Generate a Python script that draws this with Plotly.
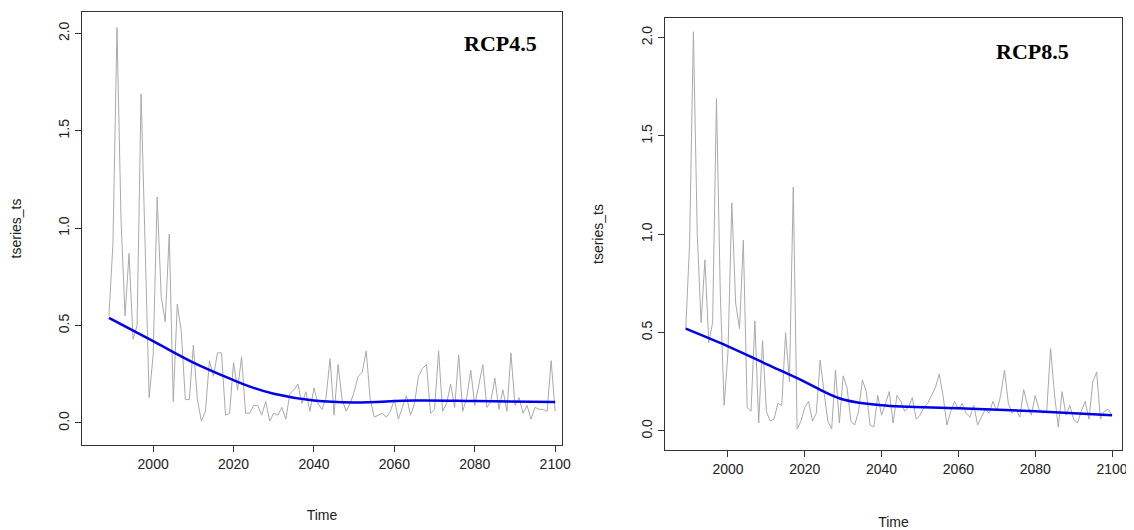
import plotly.graph_objects as go

years = list(range(1989, 2101))

rcp45 = [0.55,0.92,2.03,1.05,0.55,0.87,0.43,0.50,1.69,0.85,0.13,0.35,1.16,0.65,0.52,0.97,0.11,0.61,0.47,0.12,
         0.12,0.40,0.12,0.01,0.06,0.32,0.24,0.36,0.36,0.04,0.05,0.31,0.17,0.34,0.05,0.05,0.09,0.09,0.04,0.11,
         0.01,0.05,0.04,0.08,0.02,0.15,0.17,0.20,0.10,0.16,0.06,0.18,0.10,0.07,0.13,0.33,0.04,0.30,0.12,0.06,
         0.10,0.16,0.24,0.26,0.37,0.12,0.03,0.04,0.05,0.03,0.06,0.12,0.02,0.08,0.14,0.04,0.10,0.24,0.28,0.30,
         0.05,0.07,0.37,0.06,0.10,0.20,0.08,0.35,0.06,0.13,0.27,0.09,0.19,0.30,0.08,0.11,0.23,0.07,0.17,0.06,
         0.36,0.09,0.13,0.05,0.09,0.02,0.08,0.07,0.07,0.06,0.32,0.06,0.05][:112]
rcp85 = [0.52,0.95,2.03,1.00,0.55,0.87,0.45,0.55,1.69,0.70,0.13,0.40,1.16,0.65,0.52,0.97,0.12,0.10,0.56,0.04,
         0.46,0.10,0.05,0.06,0.14,0.13,0.50,0.25,1.24,0.01,0.05,0.12,0.15,0.05,0.09,0.36,0.20,0.05,0.01,0.31,
         0.04,0.28,0.22,0.05,0.03,0.10,0.26,0.20,0.03,0.02,0.18,0.08,0.14,0.20,0.04,0.18,0.15,0.10,0.12,0.17,
         0.06,0.08,0.12,0.14,0.18,0.22,0.29,0.18,0.03,0.10,0.15,0.11,0.14,0.09,0.07,0.13,0.03,0.07,0.11,0.09,
         0.15,0.10,0.18,0.31,0.14,0.09,0.11,0.07,0.21,0.13,0.08,0.18,0.11,0.09,0.10,0.42,0.19,0.02,0.20,0.08,
         0.13,0.06,0.04,0.10,0.15,0.06,0.25,0.30,0.06,0.10,0.11,0.08,0.01][:112]

trend45_x = [1989, 2000, 2010, 2020, 2025, 2030, 2040, 2050, 2065, 2080, 2100]
trend45_y = [0.54, 0.42, 0.31, 0.22, 0.18, 0.15, 0.115, 0.105, 0.115, 0.113, 0.108]
trend85_x = [1989, 2000, 2010, 2020, 2025, 2030, 2040, 2060, 2080, 2100]
trend85_y = [0.52, 0.43, 0.34, 0.25, 0.20, 0.16, 0.13, 0.115, 0.10, 0.08]

fig = go.Figure()
fig.add_trace(go.Scatter(x=years, y=rcp45, mode="lines", line=dict(color="#aaaaaa", width=1), xaxis="x", yaxis="y"))
fig.add_trace(go.Scatter(x=trend45_x, y=trend45_y, mode="lines", line=dict(color="#0000ee", width=2.5, shape="spline"), xaxis="x", yaxis="y"))
fig.add_trace(go.Scatter(x=years, y=rcp85, mode="lines", line=dict(color="#aaaaaa", width=1), xaxis="x2", yaxis="y2"))
fig.add_trace(go.Scatter(x=trend85_x, y=trend85_y, mode="lines", line=dict(color="#0000ee", width=2.5, shape="spline"), xaxis="x2", yaxis="y2"))

W, H = 1134, 530
tf = dict(size=14, family="Liberation Sans", color="#222")
ax = dict(showline=True, mirror=True, linecolor="#333", linewidth=1, ticks="outside", ticklen=6, automargin=False,
          tickcolor="#333", showgrid=False, zeroline=False, tickfont=tf)
fig.update_layout(
    width=W, height=H, showlegend=False, plot_bgcolor="white", paper_bgcolor="white",
    margin=dict(l=0, r=0, t=0, b=0),
    xaxis=dict(ax, domain=[74/W, 554/W], range=[1982.3, 2101.7], tickvals=[2000,2020,2040,2060,2080,2100],
               title=dict(text="Time", font=tf, standoff=39), anchor="y"),
    yaxis=dict(ax, domain=[1-437/H, 1-4/H], range=[-0.113, 2.11], tickvals=[0,0.5,1,1.5,2],
               ticktext=["0.0","0.5","1.0","1.5","2.0"], tickangle=-90,
               title=dict(text="tseries_ts", font=tf, standoff=40), anchor="x"),
    xaxis2=dict(ax, domain=[657/W, 1114/W], range=[1983.6, 2102.6], tickvals=[2000,2020,2040,2060,2080,2100],
                title=dict(text="Time", font=tf, standoff=41), anchor="y2"),
    yaxis2=dict(ax, domain=[1-442/H, 1-10/H], range=[-0.097, 2.10], tickvals=[0,0.5,1,1.5,2],
                ticktext=["0.0","0.5","1.0","1.5","2.0"], tickangle=-90,
                title=dict(text="tseries_ts", font=tf, standoff=32), anchor="x2"),
    annotations=[
        dict(text="<b>RCP4.5</b>", x=492/W, y=1-36/H, xref="paper", yref="paper", showarrow=False,
             xanchor="center", yanchor="middle",
             font=dict(family="Liberation Serif", size=22, color="black")),
        dict(text="<b>RCP8.5</b>", x=1024/W, y=1-44/H, xref="paper", yref="paper", showarrow=False,
             xanchor="center", yanchor="middle",
             font=dict(family="Liberation Serif", size=22, color="black")),
    ],
)
fig.write_html("out.html")
